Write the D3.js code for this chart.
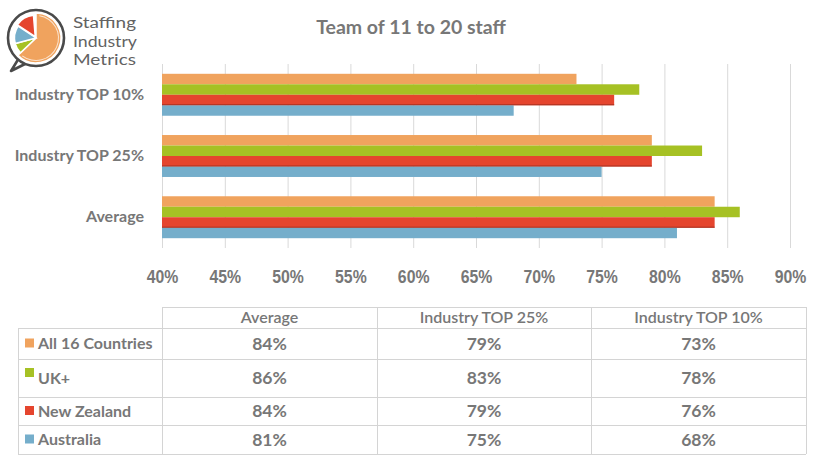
<!DOCTYPE html>
<html>
<head>
<meta charset="utf-8">
<script src="https://cdn.jsdelivr.net/npm/d3@7"></script>
<style>
  body { margin: 0; background: #fff; }
  svg { display: block; }
</style>
</head>
<body>
<div class="container"></div>
<script>
// data
const categories = ['Industry TOP 10%', 'Industry TOP 25%', 'Average']
const seriesNames = ['All 16 Countries', 'UK+', 'New Zealand', 'Australia']
const allCountries = [73, 79, 84]
const ukPlus = [78, 83, 86]
const newZealand = [76, 79, 84]
const australia = [68, 75, 81]
const xTicks = [40, 45, 50, 55, 60, 65, 70, 75, 80, 85, 90]
const tableColumns = ['Average', 'Industry TOP 25%', 'Industry TOP 10%']
const colors = ['#f0a35e', '#a6c124', '#e5452e', '#75aecb']

const seriesValues = [allCountries, ukPlus, newZealand, australia]

let width = 826
let height = 474
let textGrey = '#777777'
let labelFont = 'Lato, "Open Sans", sans-serif'

let svg = d3.select('.container')
    .append('svg')
    .attr('width', width)
    .attr('height', height)

// logo
let logo = svg.append('g').attr('class', 'logo')
let lc = { x: 36, y: 38 }
logo.append('path')
    .attr('d', `M ${lc.x - 17} ${lc.y + 20} L 11 71 L 26 ${lc.y + 25.5}`)
    .attr('fill', '#fff')
    .attr('stroke', '#4a4a4a')
    .attr('stroke-width', 2.6)
    .attr('stroke-linejoin', 'round')
logo.append('circle')
    .attr('cx', lc.x).attr('cy', lc.y).attr('r', 28)
    .attr('fill', '#fff')
    .attr('stroke', '#4a4a4a')
    .attr('stroke-width', 2.6)
let logoSlices = [
    { a0: 0, a1: 3.95, c: colors[0], r: 25, off: 0 },
    { a0: 3.95, a1: 4.45, c: colors[1], r: 21.5, off: 0 },
    { a0: 4.45, a1: 5.3, c: colors[3], r: 21.5, off: 0 },
    { a0: 5.3, a1: 6.2, c: colors[2], r: 21.5, off: 1.5 }
]
let logoArc = d3.arc().innerRadius(0)
logoSlices.forEach(s => {
    let mid = (s.a0 + s.a1) / 2
    logo.append('path')
        .attr('transform', `translate(${lc.x + Math.sin(mid) * s.off},${lc.y - Math.cos(mid) * s.off})`)
        .attr('d', logoArc({ outerRadius: s.r, startAngle: s.a0, endAngle: s.a1 }))
        .attr('fill', s.c)
        .attr('stroke', '#fff')
        .attr('stroke-width', 1.5)
})
logo.append('path')
    .attr('d', d3.arc()({ innerRadius: 22, outerRadius: 23, startAngle: 0.15, endAngle: 3.8 }))
    .attr('transform', `translate(${lc.x},${lc.y})`)
    .attr('fill', '#fff')
    .attr('opacity', 0.7)

;['Staffing', 'Industry', 'Metrics'].forEach((t, i) => {
    logo.append('text')
        .attr('x', 73)
        .attr('y', 28 + i * 18.5)
        .attr('font-family', 'Lato, sans-serif')
        .attr('font-weight', 400)
        .attr('font-size', 15.5)
        .attr('textLength', [63, 64, 63][i])
        .attr('lengthAdjust', 'spacingAndGlyphs')
        .attr('fill', '#626262')
        .text(t)
})

// title
svg.append('text')
    .attr('x', 411)
    .attr('y', 34)
    .attr('text-anchor', 'middle')
    .attr('font-family', labelFont)
    .attr('font-weight', 'bold')
    .attr('font-size', 19.5)
    .attr('fill', textGrey)
    .text('Team of 11 to 20 staff')

// chart
let plot = { left: 162, right: 790, top: 64, bottom: 248 }

let xScale = d3.scaleLinear()
    .domain([40, 90])
    .range([plot.left, plot.right])

let yScale = d3.scaleBand()
    .domain(categories)
    .range([plot.top, plot.bottom])
    .paddingInner(0.315)
    .paddingOuter(0.16)

let innerScale = d3.scaleBand()
    .domain(seriesNames)
    .range([0, yScale.bandwidth()])

let xAxis = d3.axisBottom()
    .scale(xScale)
    .tickValues(xTicks)
    .tickSize(plot.bottom - plot.top)
    .tickFormat(d => d + '%')

let gx = svg.append('g')
    .attr('class', 'x axis')
    .attr('transform', `translate(0,${plot.top})`)
    .call(xAxis)
gx.select('.domain').remove()
gx.selectAll('line').attr('stroke', '#d9d9d9')
gx.selectAll('text')
    .attr('dy', 0)
    .attr('y', (plot.bottom - plot.top + 35) / 1.04)
    .attr('transform', 'scale(0.88,1.04)')
    .attr('font-family', '"Liberation Sans", Arial, sans-serif')
    .attr('font-weight', 'bold')
    .attr('font-size', 18)
    .attr('fill', textGrey)

let yAxis = d3.axisLeft()
    .scale(yScale)
    .tickSize(0)
    .tickPadding(18)
let gy = svg.append('g')
    .attr('class', 'y axis')
    .attr('transform', `translate(${plot.left},0)`)
    .call(yAxis)
gy.select('.domain').remove()
gy.selectAll('text')
    .attr('font-family', labelFont)
    .attr('font-weight', 'bold')
    .attr('font-size', 16)
    .attr('fill', textGrey)

let barData = []
categories.forEach((c, ci) => {
    seriesNames.forEach((s, si) => {
        barData.push({ category: c, series: s, value: seriesValues[si][ci], idx: si })
    })
})

svg.append('g')
    .selectAll('rect')
    .data(barData)
    .enter()
    .append('rect')
    .attr('x', xScale(40))
    .attr('y', d => yScale(d.category) + innerScale(d.series))
    .attr('width', d => xScale(d.value) - xScale(40))
    .attr('height', innerScale.bandwidth())
    .attr('fill', d => colors[d.idx])

// red bars have a thin darker edge
svg.append('g')
    .selectAll('line')
    .data(barData.filter(d => d.idx === 2))
    .enter()
    .append('line')
    .attr('x1', xScale(40))
    .attr('x2', d => xScale(d.value))
    .attr('y1', d => yScale(d.category) + innerScale(d.series) + innerScale.bandwidth() - 0.5)
    .attr('y2', d => yScale(d.category) + innerScale(d.series) + innerScale.bandwidth() - 0.5)
    .attr('stroke', '#a83222')
    .attr('stroke-width', 1)

// data table
let colEdges = [18, 162, 377, 591, 806]
let rowEdges = [307, 328, 359, 397, 425, 454]
let table = svg.append('g').attr('class', 'table')
let border = '#d4d4d4'

// horizontal lines
rowEdges.forEach((y, i) => {
    table.append('line')
        .attr('x1', i === 0 ? colEdges[1] : colEdges[0])
        .attr('x2', colEdges[4])
        .attr('y1', y + 0.5).attr('y2', y + 0.5)
        .attr('stroke', border)
})
// vertical lines
colEdges.forEach((x, i) => {
    table.append('line')
        .attr('x1', x + 0.5).attr('x2', x + 0.5)
        .attr('y1', i === 0 ? rowEdges[1] : rowEdges[0])
        .attr('y2', rowEdges[5])
        .attr('stroke', border)
})

tableColumns.forEach((c, i) => {
    table.append('text')
        .attr('x', (colEdges[i + 1] + colEdges[i + 2]) / 2)
        .attr('y', (rowEdges[0] + rowEdges[1]) / 2)
        .attr('dy', '0.35em')
        .attr('text-anchor', 'middle')
        .attr('font-family', labelFont)
        .attr('font-weight', 600)
        .attr('font-size', 16)
        .attr('fill', textGrey)
        .text(c)
})

// column order in table is Average, TOP 25%, TOP 10% (reverse of categories)
let tableCatIndex = tableColumns.map(c => categories.indexOf(c))

seriesNames.forEach((s, si) => {
    let yMid = (rowEdges[si + 1] + rowEdges[si + 2]) / 2
    let swatchY = si === 1 ? rowEdges[si + 1] + 9 : yMid - 5
    table.append('rect')
        .attr('x', 25)
        .attr('y', swatchY)
        .attr('width', 9)
        .attr('height', 9)
        .attr('fill', colors[si])
    table.append('text')
        .attr('x', 38)
        .attr('y', yMid)
        .attr('dy', '0.35em')
        .attr('font-family', labelFont)
        .attr('font-weight', 'bold')
        .attr('font-size', 16)
        .attr('fill', textGrey)
        .text(s)
    tableCatIndex.forEach((ci, k) => {
        table.append('text')
            .attr('x', (colEdges[k + 1] + colEdges[k + 2]) / 2)
            .attr('y', yMid)
            .attr('dy', '0.35em')
            .attr('text-anchor', 'middle')
            .attr('font-family', labelFont)
            .attr('font-weight', 'bold')
            .attr('font-size', 17.5)
            .attr('fill', textGrey)
            .text(seriesValues[si][ci] + '%')
    })
})
</script>
</body>
</html>
